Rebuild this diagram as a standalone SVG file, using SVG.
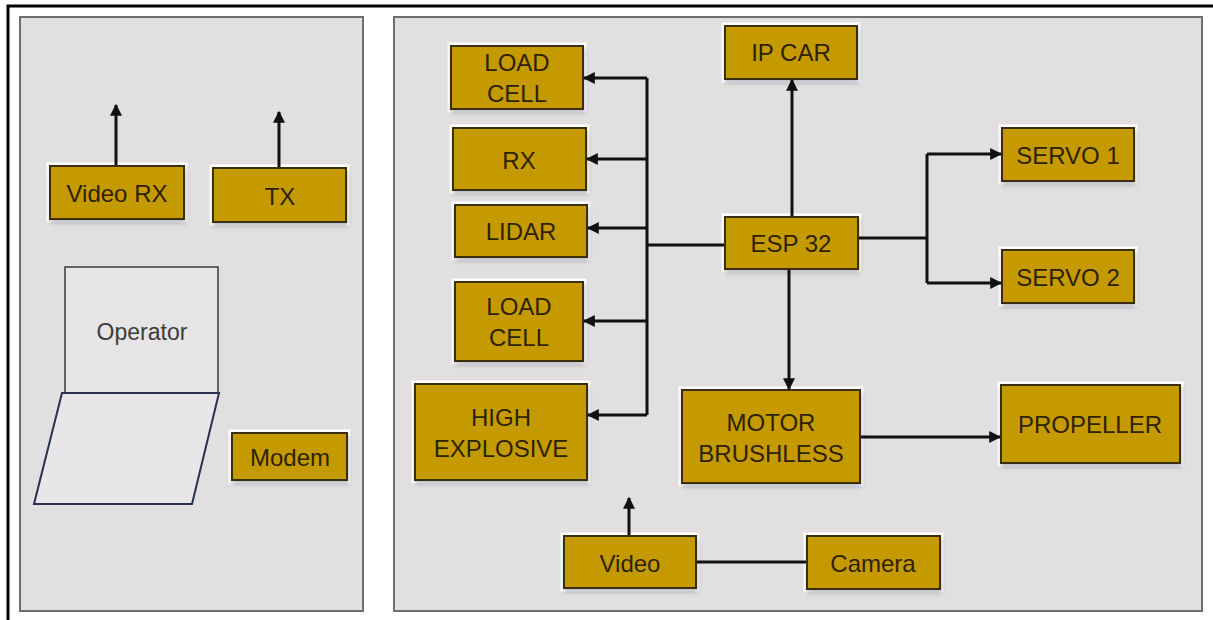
<svg xmlns="http://www.w3.org/2000/svg" width="1213" height="620" viewBox="0 0 1213 620">
<defs>
<style>
.panel{fill:#e1dfdf;stroke:#6e6e6e;stroke-width:2}
.box{fill:#c59a06;stroke:#3a2d08;stroke-width:2}
.halo{fill:none;stroke:#ffffff;stroke-width:3}
.t{font-family:"Liberation Sans",Arial,sans-serif;font-size:24px;fill:#2e2204;text-anchor:middle;dominant-baseline:central}
.op{font-family:"Liberation Sans",Arial,sans-serif;font-size:23px;fill:#3c3c3c;text-anchor:middle;dominant-baseline:central}
.ln{fill:none;stroke:#111;stroke-width:3}
.ar{fill:none;stroke:#111;stroke-width:3;marker-end:url(#ah)}
</style>
<marker id="ah" viewBox="0 0 10 10" refX="9" refY="5" markerWidth="4" markerHeight="4" orient="auto" markerUnits="strokeWidth">
<path d="M0,0 L10,5 L0,10 z" fill="#111"/>
</marker>
<filter id="sh" x="-10%" y="-10%" width="130%" height="140%">
<feDropShadow dx="1" dy="3" stdDeviation="2" flood-color="#6a6a80" flood-opacity="0.45"/>
</filter>
</defs>
<rect x="0" y="0" width="1213" height="620" fill="#ffffff"/>
<rect x="8" y="6" width="1220" height="630" fill="none" stroke="#000" stroke-width="3"/>
<g id="panel-left"><rect class="panel" x="20" y="17" width="343" height="594"/></g>
<g id="panel-right"><rect class="panel" x="394" y="17" width="808" height="594"/></g>

<g id="video-rx"><rect class="halo" x="48" y="164" width="138" height="57"/><rect class="box" filter="url(#sh)" x="50" y="166" width="134" height="53"/><text class="t" x="117" y="193">Video RX</text></g>
<g id="tx"><rect class="halo" x="211" y="166" width="137" height="58"/><rect class="box" filter="url(#sh)" x="213" y="168" width="133" height="54"/><text class="t" x="280" y="196">TX</text></g>
<g id="operator"><rect x="65" y="267" width="153" height="126" fill="#e6e4e4" stroke="#3a3a3a" stroke-width="1.5"/><text class="op" x="142" y="332">Operator</text></g>
<g id="keyboard"><polygon points="62,393 219,393 192,504 34,504" fill="#e8e6e8" stroke="#2a3050" stroke-width="2"/></g>
<g id="modem"><rect class="halo" x="230" y="431" width="119" height="51"/><rect class="box" filter="url(#sh)" x="232" y="433" width="115" height="47"/><text class="t" x="290" y="457">Modem</text></g>

<g id="load-cell-1"><rect class="halo" x="449" y="44" width="136" height="67"/><rect class="box" filter="url(#sh)" x="451" y="46" width="132" height="63"/><text class="t" x="517" y="62">LOAD</text><text class="t" x="517" y="93">CELL</text></g>
<g id="rx"><rect class="halo" x="451" y="126" width="137" height="66"/><rect class="box" filter="url(#sh)" x="453" y="128" width="133" height="62"/><text class="t" x="519" y="160">RX</text></g>
<g id="lidar"><rect class="halo" x="453" y="203" width="136" height="56"/><rect class="box" filter="url(#sh)" x="455" y="205" width="132" height="52"/><text class="t" x="521" y="231">LIDAR</text></g>
<g id="load-cell-2"><rect class="halo" x="453" y="280" width="132" height="83"/><rect class="box" filter="url(#sh)" x="455" y="282" width="128" height="79"/><text class="t" x="519" y="306">LOAD</text><text class="t" x="519" y="337">CELL</text></g>
<g id="high-explosive"><rect class="halo" x="413" y="382" width="176" height="100"/><rect class="box" filter="url(#sh)" x="415" y="384" width="172" height="96"/><text class="t" x="501" y="417">HIGH</text><text class="t" x="501" y="448">EXPLOSIVE</text></g>
<g id="ip-car"><rect class="halo" x="723" y="24" width="136" height="57"/><rect class="box" filter="url(#sh)" x="725" y="26" width="132" height="53"/><text class="t" x="791" y="52">IP CAR</text></g>
<g id="esp32"><rect class="halo" x="723" y="215" width="137" height="56"/><rect class="box" filter="url(#sh)" x="725" y="217" width="133" height="52"/><text class="t" x="791" y="243">ESP 32</text></g>
<g id="servo-1"><rect class="halo" x="1000" y="126" width="136" height="57"/><rect class="box" filter="url(#sh)" x="1002" y="128" width="132" height="53"/><text class="t" x="1068" y="155">SERVO 1</text></g>
<g id="servo-2"><rect class="halo" x="1000" y="248" width="136" height="57"/><rect class="box" filter="url(#sh)" x="1002" y="250" width="132" height="53"/><text class="t" x="1068" y="277">SERVO 2</text></g>
<g id="motor-brushless"><rect class="halo" x="680" y="388" width="182" height="97"/><rect class="box" filter="url(#sh)" x="682" y="390" width="178" height="93"/><text class="t" x="771" y="422">MOTOR</text><text class="t" x="771" y="453">BRUSHLESS</text></g>
<g id="propeller"><rect class="halo" x="999" y="383" width="183" height="82"/><rect class="box" filter="url(#sh)" x="1001" y="385" width="179" height="78"/><text class="t" x="1090" y="424">PROPELLER</text></g>
<g id="video"><rect class="halo" x="562" y="534" width="136" height="56"/><rect class="box" filter="url(#sh)" x="564" y="536" width="132" height="52"/><text class="t" x="630" y="563">Video</text></g>
<g id="camera"><rect class="halo" x="805" y="534" width="137" height="57"/><rect class="box" filter="url(#sh)" x="807" y="536" width="133" height="53"/><text class="t" x="873" y="563">Camera</text></g>

<g id="connectors">
<path class="ar" d="M116,165 V105"/>
<path class="ar" d="M279,167 V112"/>
<path class="ar" d="M629,535 V498"/>
<path class="ln" d="M697,562 H806"/>
<path class="ar" d="M792,216 V80"/>
<path class="ln" d="M724,245 H647"/>
<path class="ln" d="M647,78 V415"/>
<path class="ar" d="M647,78 H584"/>
<path class="ar" d="M647,159 H587"/>
<path class="ar" d="M647,228 H588"/>
<path class="ar" d="M647,321 H584"/>
<path class="ar" d="M647,415 H588"/>
<path class="ar" d="M789,270 V389"/>
<path class="ln" d="M859,238 H927"/>
<path class="ln" d="M927,154 V283"/>
<path class="ar" d="M927,154 H1001"/>
<path class="ar" d="M927,283 H1001"/>
<path class="ar" d="M861,437 H1000"/>
</g>
</svg>
